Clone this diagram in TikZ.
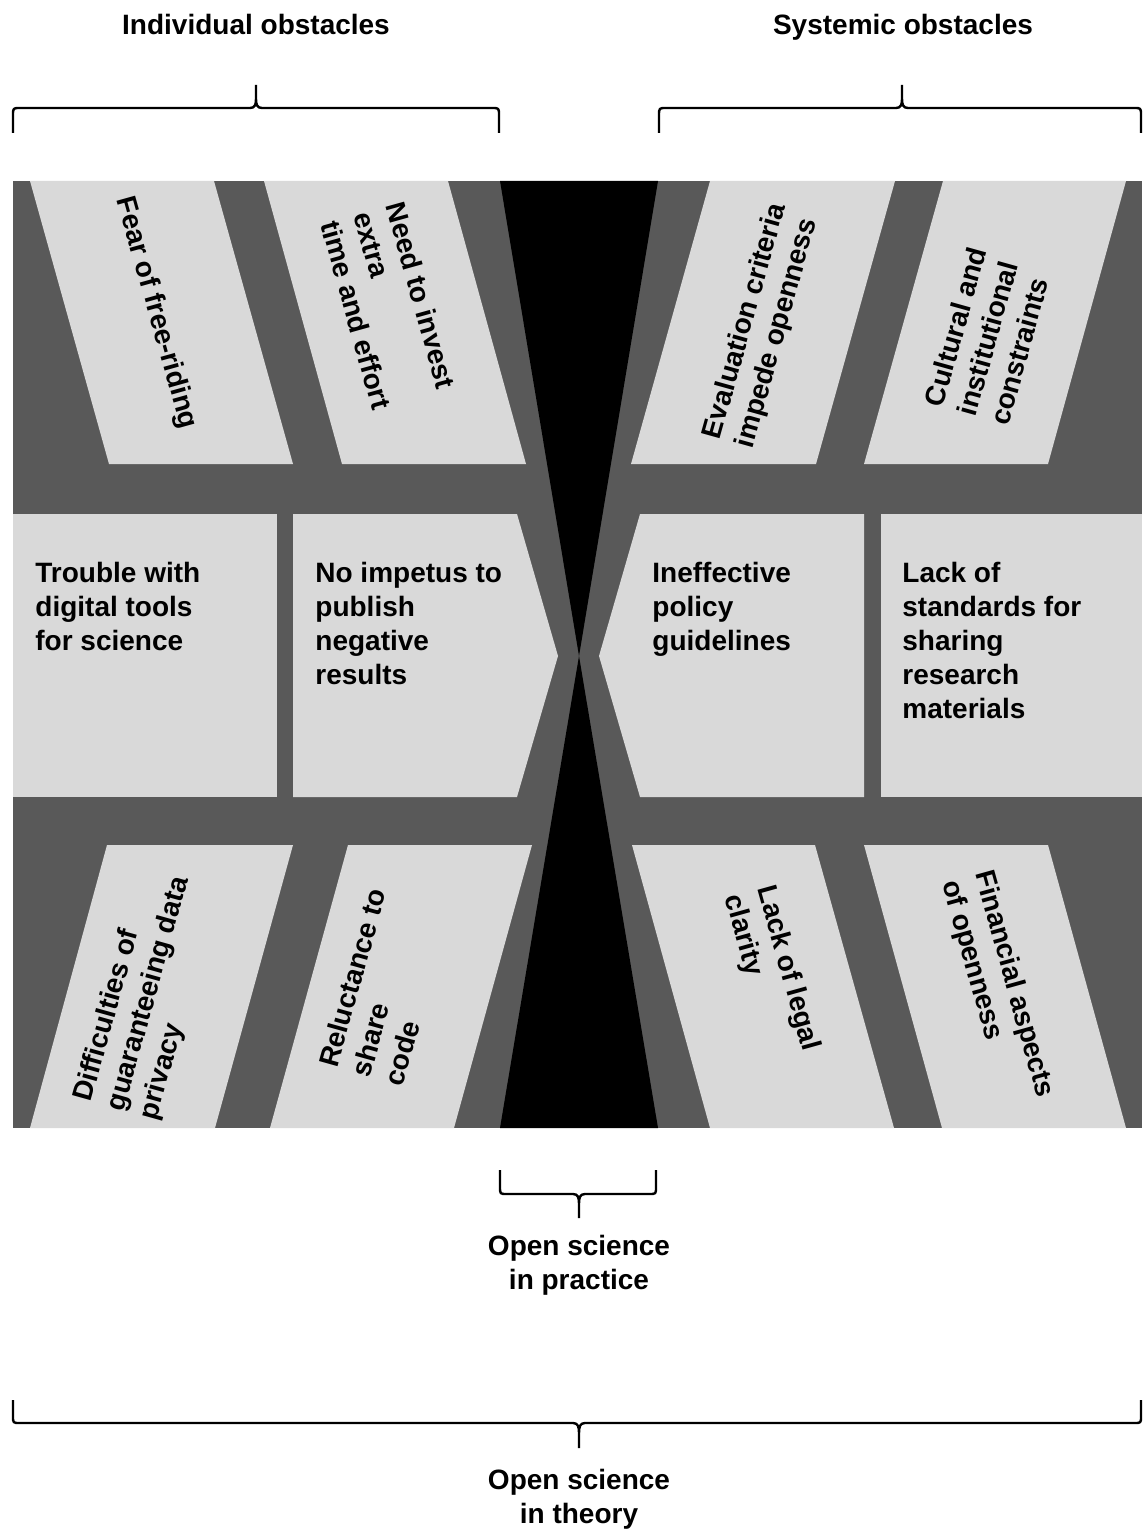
\documentclass[tikz,border=0pt]{standalone}
\usepackage{fontspec}
\setmainfont{Liberation Sans}
\usetikzlibrary{calc,positioning}
\definecolor{darkbg}{HTML}{595959}
\definecolor{litebox}{HTML}{D9D9D9}
\begin{document}
\begin{tikzpicture}[x=0.5pt, y=-0.5pt, lbl/.style={inner sep=0pt, font=\bfseries\fontsize{14}{17}\selectfont, align=left}, brc/.style={line width=1.2pt, line join=round}]
\tikzstyle{txtdown}=[lbl, rotate=-74.4]
\tikzstyle{txtup}=[lbl, rotate=74.4]
\useasboundingbox (0,0) rectangle (1142,1530);
\fill[darkbg] (13,181) rectangle (1142,1128);
\fill[black] (500,181) -- (658,181) -- (579,656) -- (658,1128) -- (500,1128) -- (579,656) -- cycle;
\foreach \a/\b/\c/\d/\ya/\yb in {30/214/293/109/181/464, 264/448/526/342/181/464, 710/895/816/631/181/464, 943/1126/1048/864/181/464, 107/293/215/30/845/1128, 348/532/454/270/845/1128, 632/815/894/710/845/1128, 864/1048/1126/942/845/1128}{\fill[litebox] (\a,\ya) -- (\b,\ya) -- (\c,\yb) -- (\d,\yb) -- cycle;}
\fill[litebox] (13,514) rectangle (277,797);
\fill[litebox] (293,514) -- (517,514) -- (558,656) -- (517,797) -- (293,797) -- cycle;
\fill[litebox] (640,514) -- (864,514) -- (864,797) -- (640,797) -- (599,656) -- cycle;
\fill[litebox] (881,514) rectangle (1142,797);
\node[txtdown] (fear) at (156,313) {Fear of free-riding};
\node[txtdown] (invest) at (389,306) {Need to invest\\extra\\time and effort};
\node[txtup] (evaluation) at (762,326) {Evaluation criteria\\impede openness};
\node[txtup] (culture) at (988,336) {Cultural and\\institutional\\constraints};
\node[lbl, anchor=north west] (trouble) at (35,562) {Trouble with\\digital tools\\for science};
\node[lbl, anchor=north west] (impetus) at (315,562) {No impetus to\\publish\\negative\\results};
\node[lbl, anchor=north west] (policy) at (652,562) {Ineffective\\policy\\guidelines};
\node[lbl, anchor=north west] (standards) at (902,562) {Lack of\\standards for\\sharing\\research\\materials};
\node[txtup] (privacy) at (149,994) {Difficulties of\\guaranteeing data\\privacy};
\node[txtup] (code) at (385,987) {Reluctance to\\share\\code};
\node[txtdown] (legal) at (771,973) {Lack of legal\\clarity};
\node[txtdown] (finance) at (997,989) {Financial aspects\\of openness};
\node[lbl, anchor=base] (indiv) at (256,35) {Individual obstacles};
\node[lbl, anchor=base] (syst) at (903,35) {Systemic obstacles};
\node[lbl, align=center] (practice) at (579,1265) {Open science\\in practice};
\node[lbl, align=center] (theory) at (579,1499) {Open science\\in theory};
\foreach \xl/\xr/\xm/\ye/\yb/\yt in {13/499/256/133/108/85, 659/1141/902/133/108/85, 500/656/579/1170/1194/1218, 13/1141/579/1400/1423/1448}{\draw[brc] (\xl,\ye) -- (\xl,{\yb+0.3*(\ye-\yb)}) .. controls (\xl,\yb) .. (\xl+7,\yb) -- (\xm-6,\yb) .. controls (\xm-1,\yb) and (\xm,{\yb+0.15*(\yt-\yb)}) .. (\xm,{\yb+0.4*(\yt-\yb)}) -- (\xm,\yt) (\xm,{\yb+0.4*(\yt-\yb)}) .. controls (\xm,{\yb+0.15*(\yt-\yb)}) and (\xm+1,\yb) .. (\xm+6,\yb) -- (\xr-7,\yb) .. controls (\xr,\yb) .. (\xr,{\yb+0.3*(\ye-\yb)}) -- (\xr,\ye);}
\end{tikzpicture}
\end{document}
